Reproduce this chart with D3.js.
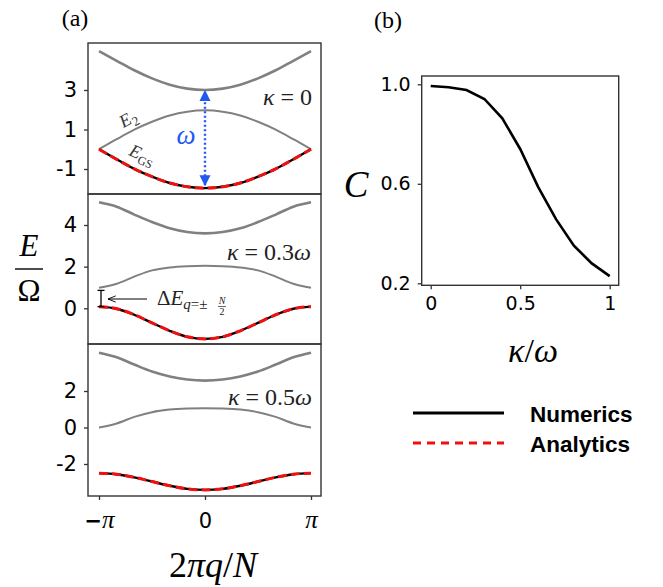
<!DOCTYPE html>
<html lang="en">
<head>
<meta charset="UTF-8">
<title>Band energies and C</title>
<script src="https://d3js.org/d3.v7.min.js"></script>
<style>
  body { margin: 0; background: #fff; }
  svg { display: block; }
  .math { font-family: "Liberation Serif", "DejaVu Serif", serif; }
</style>
</head>
<body>
<svg id="fig" width="663" height="587"></svg>
<script>
// q in units of pi (2*pi*q/N / pi)
const qFrac = [-1, -0.833, -0.667, -0.5, -0.333, -0.167, 0, 0.167, 0.333, 0.5, 0.667, 0.833, 1];

// kappa = 0
const upper0 = [4.97, 4.48, 4.0, 3.59, 3.27, 3.07, 3.0, 3.07, 3.27, 3.59, 4.0, 4.48, 4.97];
const e2_0   = [0.0, 0.51, 0.99, 1.39, 1.71, 1.90, 1.97, 1.90, 1.71, 1.39, 0.99, 0.51, 0.0];
const gs_0   = [0.0, -0.51, -0.99, -1.39, -1.71, -1.90, -1.97, -1.90, -1.71, -1.39, -0.99, -0.51, 0.0];

// kappa = 0.3 omega
const upper3 = [5.09, 4.88, 4.50, 4.14, 3.84, 3.66, 3.60, 3.66, 3.84, 4.14, 4.50, 4.88, 5.09];
const e2_3   = [0.99, 1.18, 1.52, 1.82, 1.96, 2.02, 2.04, 2.02, 1.96, 1.82, 1.52, 1.18, 0.99];
const gs_3   = [0.08, -0.02, -0.31, -0.70, -1.08, -1.37, -1.47, -1.37, -1.08, -0.70, -0.31, -0.02, 0.08];

// kappa = 0.5 omega
const upper5 = [4.10, 3.85, 3.45, 3.07, 2.80, 2.63, 2.57, 2.63, 2.80, 3.07, 3.45, 3.85, 4.10];
const e2_5   = [0.0, 0.22, 0.58, 0.84, 0.98, 1.04, 1.06, 1.04, 0.98, 0.84, 0.58, 0.22, 0.0];
const gs_5   = [-2.50, -2.56, -2.73, -2.96, -3.19, -3.36, -3.42, -3.36, -3.19, -2.96, -2.73, -2.56, -2.50];

// panel (b)
const kappa = [0, 0.1, 0.2, 0.3, 0.4, 0.5, 0.6, 0.7, 0.8, 0.9, 1.0];
const cVals = [0.993, 0.988, 0.977, 0.941, 0.863, 0.74, 0.588, 0.458, 0.351, 0.28, 0.229];

const yTicks0 = [-1, 1, 3];
const yTicks3 = [0, 2, 4];
const yTicks5 = [-2, 0, 2];
const cTicks = [0.2, 0.6, 1.0];
const kTicks = [0, 0.5, 1];

const svg = d3.select('#fig');
const frameCol = '#333';
const gray = '#808080';

// ---------- panel (a) ----------
const aLeft = 88, aRight = 321;
const xA = d3.scaleLinear().domain([-1, 1]).range([99, 311]);

const panels = [
    { top: 43,  bottom: 194, dom: [-1, 3], rng: [169, 90],    ticks: yTicks0, up: upper0, e2: e2_0, gs: gs_0 },
    { top: 194, bottom: 344, dom: [0, 4],  rng: [308.3, 225], ticks: yTicks3, up: upper3, e2: e2_3, gs: gs_3 },
    { top: 344, bottom: 496, dom: [-2, 2], rng: [464, 391],   ticks: yTicks5, up: upper5, e2: e2_5, gs: gs_5 }
];

const yScales = [];
panels.forEach(p => {
    const y = d3.scaleLinear().domain(p.dom).range(p.rng);
    yScales.push(y);
    const line = d3.line()
        .x((d, i) => xA(qFrac[i]))
        .y(d => y(d))
        .curve(d3.curveMonotoneX);

    svg.append('path').attr('d', line(p.up))
        .attr('fill', 'none').attr('stroke', gray).attr('stroke-width', 2.6);
    svg.append('path').attr('d', line(p.e2))
        .attr('fill', 'none').attr('stroke', gray).attr('stroke-width', 2);
    svg.append('path').attr('d', line(p.gs))
        .attr('fill', 'none').attr('stroke', '#000').attr('stroke-width', 2.4);
    svg.append('path').attr('d', line(p.gs))
        .attr('fill', 'none').attr('stroke', '#f01010').attr('stroke-width', 3)
        .attr('stroke-dasharray', '9,4');

    svg.append('rect')
        .attr('x', aLeft).attr('y', p.top)
        .attr('width', aRight - aLeft).attr('height', p.bottom - p.top)
        .attr('fill', 'none').attr('stroke', frameCol).attr('stroke-width', 1.4);

    const ax = svg.append('g')
        .attr('transform', `translate(${aLeft},0)`)
        .call(d3.axisLeft(y).tickValues(p.ticks).tickSize(4).tickPadding(7)
            .tickFormat(d => d < 0 ? '-' + Math.abs(d) : String(d)));
    ax.select('.domain').remove();
    ax.selectAll('line').attr('stroke', frameCol).attr('stroke-width', 1.3);
    ax.selectAll('text').attr('font-size', 21).attr('font-family', 'DejaVu Sans').attr('fill', '#000');
});

// bottom x axis
const xAx = svg.append('g')
    .attr('transform', 'translate(0,496)')
    .call(d3.axisBottom(xA).tickValues([-1, 0, 1]).tickSize(4).tickPadding(11).tickFormat(''));
xAx.select('.domain').remove();
xAx.selectAll('line').attr('stroke', frameCol).attr('stroke-width', 1.3);
xAx.selectAll('.tick').each(function(d) {
    const t = d3.select(this).select('text')
        .attr('font-size', 22).attr('fill', '#000').attr('dy', '0.75em');
    if (d === 0) {
        t.append('tspan').attr('font-family', 'DejaVu Sans').attr('font-size', 21).text('0');
    } else {
        if (d < 0) t.append('tspan').attr('font-family', 'DejaVu Sans').attr('font-weight', 'bold').attr('font-size', 21).text('\u2212');
        t.append('tspan').attr('class', 'math').attr('font-style', 'italic').attr('font-size', 25).text('\u03c0');
    }
});

// kappa labels
function kappaLabel(x, yb, rest) {
    const t = svg.append('text').attr('class', 'math').attr('x', x).attr('y', yb)
        .attr('text-anchor', 'end').attr('font-size', 24).attr('fill', '#222');
    t.append('tspan').attr('font-style', 'italic').text('\u03ba');
    t.append('tspan').text(' = ' + rest.num);
    if (rest.w) t.append('tspan').attr('font-style', 'italic').text('\u03c9');
}
kappaLabel(312, 105, { num: '0' });
kappaLabel(311, 260, { num: '0.3', w: true });
kappaLabel(312, 405, { num: '0.5', w: true });

// E2 and EGS labels
const e2Lab = svg.append('text').attr('class', 'math')
    .attr('transform', 'translate(131,124) rotate(-29)')
    .attr('text-anchor', 'middle').attr('font-size', 18).attr('fill', '#333');
e2Lab.append('tspan').attr('font-style', 'italic').text('E');
e2Lab.append('tspan').attr('font-size', 13).attr('dy', 4).text('2');

const gsLab = svg.append('text').attr('class', 'math')
    .attr('transform', 'translate(140,160) rotate(24)')
    .attr('text-anchor', 'middle').attr('font-size', 18).attr('fill', '#333');
gsLab.append('tspan').attr('font-style', 'italic').text('E');
gsLab.append('tspan').attr('font-size', 12).attr('dy', 4).text('GS');

// omega gap arrow
const blue = '#2158f0';
const defs = svg.append('defs');
defs.append('marker').attr('id', 'bhead').attr('viewBox', '0 0 10 10')
    .attr('refX', 9).attr('refY', 5).attr('markerWidth', 4.6).attr('markerHeight', 4.6)
    .attr('orient', 'auto-start-reverse').attr('markerUnits', 'strokeWidth')
    .append('path').attr('d', 'M0,0 L10,5 L0,10 Z').attr('fill', blue);
defs.append('marker').attr('id', 'khead').attr('viewBox', '0 0 10 10')
    .attr('refX', 10).attr('refY', 5).attr('markerWidth', 7).attr('markerHeight', 7)
    .attr('orient', 'auto')
    .append('path').attr('d', 'M0,1 L10,5 L0,9').attr('fill', 'none').attr('stroke', '#000').attr('stroke-width', 1.2);

const y0 = yScales[0];
svg.append('line')
    .attr('x1', xA(0)).attr('x2', xA(0))
    .attr('y1', y0(gs_0[6]) - 3).attr('y2', y0(upper0[6]) + 1)
    .attr('stroke', blue).attr('stroke-width', 2.4).attr('stroke-dasharray', '2,2.5')
    .attr('marker-start', 'url(#bhead)').attr('marker-end', 'url(#bhead)');
svg.append('text').attr('class', 'math').attr('x', 186).attr('y', 144)
    .attr('text-anchor', 'middle').attr('font-size', 27).attr('font-style', 'italic')
    .attr('fill', blue).text('\u03c9');

// Delta E annotation in middle panel
const y3 = yScales[1];
const barX = 101, barTop = y3(0.86), barBot = y3(gs_3[0]);
svg.append('line').attr('x1', barX).attr('x2', barX).attr('y1', barTop).attr('y2', barBot)
    .attr('stroke', '#000').attr('stroke-width', 1.3);
[barTop, barBot].forEach(v => svg.append('line')
    .attr('x1', barX - 3.5).attr('x2', barX + 3.5).attr('y1', v).attr('y2', v)
    .attr('stroke', '#000').attr('stroke-width', 1.3));
svg.append('line').attr('x1', 147).attr('x2', 108).attr('y1', 299).attr('y2', 299)
    .attr('stroke', '#000').attr('stroke-width', 1.1).attr('marker-end', 'url(#khead)');
const dE = svg.append('text').attr('class', 'math').attr('x', 157).attr('y', 305)
    .attr('font-size', 21).attr('fill', '#222');
dE.append('tspan').text('\u0394');
dE.append('tspan').attr('font-style', 'italic').text('E');
dE.append('tspan').attr('font-size', 15).attr('dy', 4).attr('font-style', 'italic').text('q');
dE.append('tspan').attr('font-size', 15).text('=\u00b1');
svg.append('text').attr('class', 'math').attr('x', 222).attr('y', 304)
    .attr('text-anchor', 'middle').attr('font-size', 10).attr('font-style', 'italic').attr('fill', '#222').text('N');
svg.append('line').attr('x1', 218).attr('x2', 226).attr('y1', 306.5).attr('y2', 306.5)
    .attr('stroke', '#222').attr('stroke-width', 0.7);
svg.append('text').attr('class', 'math').attr('x', 222).attr('y', 315)
    .attr('text-anchor', 'middle').attr('font-size', 10).attr('fill', '#222').text('2');

// axis titles panel (a)
svg.append('text').attr('class', 'math').attr('x', 29).attr('y', 256)
    .attr('text-anchor', 'middle').attr('font-size', 31).attr('font-style', 'italic').text('E');
svg.append('line').attr('x1', 15).attr('x2', 43).attr('y1', 269).attr('y2', 269)
    .attr('stroke', '#000').attr('stroke-width', 1.4);
svg.append('text').attr('class', 'math').attr('x', 29).attr('y', 301)
    .attr('text-anchor', 'middle').attr('font-size', 31).text('\u03a9');

const xt = svg.append('text').attr('class', 'math').attr('x', 213).attr('y', 577)
    .attr('text-anchor', 'middle').attr('font-size', 36);
xt.append('tspan').text('2');
xt.append('tspan').attr('font-style', 'italic').text('\u03c0q');
xt.append('tspan').text('/');
xt.append('tspan').attr('font-style', 'italic').text('N');

svg.append('text').attr('class', 'math').attr('x', 75).attr('y', 26)
    .attr('text-anchor', 'middle').attr('font-size', 24).text('(a)');

// ---------- panel (b) ----------
const bLeft = 421.7, bRight = 618.7, bTop = 76, bBot = 285.3;
const xB = d3.scaleLinear().domain([0, 1]).range([430.7, 609.7]);
const yB = d3.scaleLinear().domain([0.2, 1.0]).range([283.3, 84.3]);

svg.append('path')
    .attr('d', d3.line().x((d, i) => xB(kappa[i])).y(d => yB(d))(cVals))
    .attr('fill', 'none').attr('stroke', '#000').attr('stroke-width', 2.6);

svg.append('rect').attr('x', bLeft).attr('y', bTop)
    .attr('width', bRight - bLeft).attr('height', bBot - bTop)
    .attr('fill', 'none').attr('stroke', frameCol).attr('stroke-width', 1.4);

const byAx = svg.append('g').attr('transform', `translate(${bLeft},0)`)
    .call(d3.axisLeft(yB).tickValues(cTicks).tickSize(4).tickPadding(7).tickFormat(d3.format('.1f')));
const bxAx = svg.append('g').attr('transform', `translate(0,${bBot})`)
    .call(d3.axisBottom(xB).tickValues(kTicks).tickSize(4).tickPadding(7).tickFormat(d => String(d)));
[byAx, bxAx].forEach(ax => {
    ax.select('.domain').remove();
    ax.selectAll('line').attr('stroke', frameCol).attr('stroke-width', 1.3);
    ax.selectAll('text').attr('font-size', 19).attr('font-family', 'DejaVu Sans').attr('fill', '#000');
});

svg.append('text').attr('class', 'math').attr('x', 356).attr('y', 197)
    .attr('text-anchor', 'middle').attr('font-size', 37).attr('font-style', 'italic').text('C');
const kt = svg.append('text').attr('class', 'math').attr('x', 533).attr('y', 362)
    .attr('text-anchor', 'middle').attr('font-size', 34);
kt.append('tspan').attr('font-style', 'italic').text('\u03ba');
kt.append('tspan').text('/');
kt.append('tspan').attr('font-style', 'italic').text('\u03c9');

svg.append('text').attr('class', 'math').attr('x', 388).attr('y', 28)
    .attr('text-anchor', 'middle').attr('font-size', 24).text('(b)');

// ---------- legend ----------
const legend = [
    { name: 'Numerics', color: '#000', dash: null, y: 413 },
    { name: 'Analytics', color: '#f01010', dash: '8,6', y: 443 }
];
legend.forEach(l => {
    svg.append('line').attr('x1', 413).attr('x2', 504).attr('y1', l.y).attr('y2', l.y)
        .attr('stroke', l.color).attr('stroke-width', 3)
        .attr('stroke-dasharray', l.dash);
    svg.append('text').attr('x', 530).attr('y', l.y + 9)
        .attr('font-family', '"Liberation Sans", Arial, sans-serif').attr('font-weight', 'bold')
        .attr('font-size', 22.5).attr('fill', '#000').text(l.name);
});
</script>
</body>
</html>
